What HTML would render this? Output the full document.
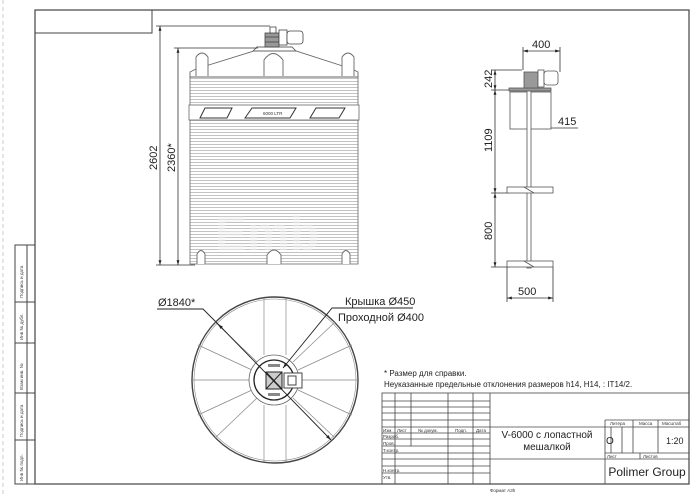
<!DOCTYPE html>
<html><head><meta charset="utf-8"><style>
html,body{margin:0;padding:0;background:#fff;}
svg{display:block;font-family:"Liberation Sans","DejaVu Sans",sans-serif;}
</style></head><body>
<svg width="700" height="495" viewBox="0 0 700 495" xmlns="http://www.w3.org/2000/svg">
<defs>
<marker id="a" viewBox="0 0 10 10" refX="10" refY="5" markerWidth="6" markerHeight="6" orient="auto-start-reverse"><path d="M0,2 L10,5 L0,8 z" fill="#222"/></marker>
<pattern id="cor" x="0" y="0" width="4" height="3" patternUnits="userSpaceOnUse"><rect width="4" height="3" fill="#fff"/><line x1="0" y1="0.5" x2="4" y2="0.5" stroke="#aaa" stroke-width="0.7"/></pattern>
</defs>
<rect width="700" height="495" fill="#fff"/>
<line x1="3" y1="0" x2="3" y2="495" stroke="#ccc" stroke-dasharray="4,3"/>
<rect x="35" y="10" width="654" height="474" fill="none" stroke="#444" stroke-width="1.2"/>
<rect x="35" y="10" width="117" height="23" fill="none" stroke="#444"/>
<g stroke="#444" fill="none">
<rect x="15" y="245" width="20" height="239"/>
<line x1="27" y1="245" x2="27" y2="484"/>
<line x1="15" y1="302" x2="35" y2="302"/><line x1="15" y1="343" x2="35" y2="343"/>
<line x1="15" y1="393" x2="35" y2="393"/><line x1="15" y1="440" x2="35" y2="440"/>
</g>
<g font-size="4.5" fill="#444">
<text transform="translate(23,298) rotate(-90)">Подпись и дата</text>
<text transform="translate(23,340) rotate(-90)">Инв № дубл.</text>
<text transform="translate(23,390) rotate(-90)">Взам инв. №</text>
<text transform="translate(23,437) rotate(-90)">Подпись и дата</text>
<text transform="translate(23,481) rotate(-90)">Инв № подл.</text>
</g>

<rect x="190" y="77" width="168" height="187" fill="url(#cor)" stroke="#666" stroke-width="0.8"/>
<rect x="189" y="105" width="170" height="15" fill="#fff" stroke="#666" stroke-width="0.8"/>
<g fill="none" stroke="#333" stroke-width="1">
<path d="M200,118 L205,108 L232,108 L227,118 Z"/>
<path d="M245,118 L252,108 L296,108 L290,118 Z"/>
<path d="M310,118 L316,108 L345,108 L339,118 Z"/>
</g>
<text x="263" y="115" font-size="4.5" fill="#333">6000 LTR</text>
<text x="215" y="250" font-size="48" font-weight="bold" fill="#f2f2f2" opacity="0.5">Emb</text>
<g fill="#fff" stroke="#666" stroke-width="0.9">
<path d="M190,77 L190,72 L196,69 L254,51 L296,51 L352,69 L358,72 L358,77 Z"/>
<path d="M196,76 L196,57 Q202,49 208,57 L208,76"/>
<path d="M264,76 L264,60 Q273,47 283,60 L283,76"/>
<path d="M342,76 L342,57 Q348,49 354,57 L354,76"/>
<path d="M253,51 L296,51 L292,47 L257,47 Z"/>
</g>
<g fill="#fff" stroke="#444" stroke-width="0.8">
<rect x="265" y="33" width="14" height="14" fill="#999"/>
<line x1="265" y1="37" x2="279" y2="37"/><line x1="265" y1="42" x2="279" y2="42"/>
<rect x="279" y="30" width="8" height="15"/>
<rect x="287" y="31" width="16" height="13" rx="3"/>
<rect x="270" y="27" width="6" height="6"/>
</g>
<g fill="#fff" stroke="#666" stroke-width="0.9">
<path d="M197,264 L197,254 Q201,247 205,254 L205,264"/>
<path d="M267,264 L267,255 Q274,245 281,255 L281,264"/>
<path d="M342,264 L342,254 Q346,247 350,254 L350,264"/>
</g>
<g stroke="#333" stroke-width="0.8" fill="none">
<line x1="156" y1="26" x2="270" y2="26"/>
<line x1="174" y1="48" x2="258" y2="48"/>
<line x1="156" y1="265" x2="195" y2="265"/>
<line x1="160" y1="26" x2="160" y2="265" marker-start="url(#a)" marker-end="url(#a)"/>
<line x1="178" y1="48" x2="178" y2="265" marker-start="url(#a)" marker-end="url(#a)"/>
</g>
<text transform="translate(157,170) rotate(-90)" font-size="11" fill="#222">2602</text>
<text transform="translate(175,172) rotate(-90)" font-size="11" fill="#222">2360*</text>

<circle cx="275" cy="380" r="83" fill="none" stroke="#444" stroke-width="1.4"/>
<circle cx="275" cy="380" r="81" fill="none" stroke="#888" stroke-width="0.6"/>
<g stroke="#888" stroke-width="0.7">
<line x1="264" y1="355" x2="264" y2="298"/><line x1="286" y1="355" x2="286" y2="298"/>
<line x1="264" y1="405" x2="264" y2="462"/><line x1="286" y1="405" x2="286" y2="462"/>
<line x1="250" y1="380" x2="192" y2="380"/><line x1="300" y1="380" x2="358" y2="380"/>
<line x1="252" y1="370" x2="198" y2="345"/><line x1="257" y1="362" x2="215" y2="322"/>
<line x1="252" y1="390" x2="198" y2="415"/><line x1="257" y1="398" x2="215" y2="438"/>
<line x1="298" y1="370" x2="352" y2="345"/><line x1="293" y1="362" x2="335" y2="322"/>
<line x1="298" y1="390" x2="352" y2="415"/><line x1="293" y1="398" x2="335" y2="438"/>
</g>
<circle cx="274" cy="380" r="25" fill="#fff" stroke="#666" stroke-width="0.8"/>
<circle cx="274" cy="380" r="20" fill="none" stroke="#222" stroke-width="1.3"/>
<rect x="266" y="372" width="16" height="17" fill="#ccc" stroke="#222"/>
<line x1="266" y1="372" x2="282" y2="389" stroke="#222"/><line x1="282" y1="372" x2="266" y2="389" stroke="#222"/>
<rect x="268" y="364" width="12" height="3" fill="#888"/>
<rect x="268" y="393" width="12" height="3" fill="#888"/>
<rect x="284" y="373" width="18" height="15" fill="#fff" stroke="#444"/>
<rect x="288" y="376" width="8" height="9" fill="#fff" stroke="#444"/>
<g stroke="#222" stroke-width="0.9" fill="none">
<line x1="218" y1="324" x2="331" y2="440" marker-start="url(#a)" marker-end="url(#a)"/>
<polyline points="157,309 203,309 218,324"/>
<polyline points="413,308 332,308 283,368" marker-end="url(#a)"/>
</g>
<text x="158" y="306" font-size="11" fill="#222">Ø1840*</text>
<text x="345" y="305" font-size="11" fill="#222">Крышка Ø450</text>
<text x="338" y="321" font-size="11" fill="#222">Проходной Ø400</text>

<g stroke="#333" stroke-width="0.8" fill="none">
<line x1="523" y1="51" x2="560" y2="51" marker-start="url(#a)" marker-end="url(#a)"/>
<line x1="523" y1="47" x2="523" y2="70"/><line x1="560" y1="47" x2="560" y2="72"/>
<line x1="491" y1="70" x2="522" y2="70"/><line x1="491" y1="90" x2="510" y2="90"/>
<line x1="491" y1="193" x2="510" y2="193"/><line x1="491" y1="267" x2="510" y2="267"/>
<line x1="495" y1="70" x2="495" y2="90" marker-start="url(#a)" marker-end="url(#a)"/>
<line x1="495" y1="90" x2="495" y2="193" marker-start="url(#a)" marker-end="url(#a)"/>
<line x1="495" y1="193" x2="495" y2="267" marker-start="url(#a)" marker-end="url(#a)"/>
<line x1="510" y1="128" x2="551" y2="128" marker-start="url(#a)" marker-end="url(#a)"/>
<line x1="551" y1="128" x2="578" y2="128"/>
<line x1="507" y1="267" x2="507" y2="302"/><line x1="553" y1="267" x2="553" y2="302"/>
<line x1="507" y1="298" x2="553" y2="298" marker-start="url(#a)" marker-end="url(#a)"/>
</g>
<g stroke="#555" stroke-width="0.8" fill="#fff">
<rect x="510" y="92" width="41" height="37"/>
<rect x="527" y="90" width="4" height="178"/>
<rect x="507" y="187" width="46" height="6"/>
<rect x="507" y="261" width="46" height="6"/>
<line x1="524" y1="187" x2="534" y2="193"/><line x1="524" y1="261" x2="534" y2="267"/>
<rect x="509" y="88" width="42" height="3" fill="#999"/>
<rect x="524" y="72" width="14" height="16" fill="#999"/>
<rect x="538" y="70" width="6" height="17"/>
<rect x="544" y="71" width="14" height="14" rx="3"/>
</g>
<g font-size="11" fill="#222">
<text x="532" y="48">400</text>
<text x="558" y="125">415</text>
<text x="518" y="295">500</text>
<text transform="translate(492,88) rotate(-90)">242</text>
<text transform="translate(492,152) rotate(-90)">1109</text>
<text transform="translate(492,240) rotate(-90)">800</text>
</g>

<text x="384" y="376" font-size="8" fill="#222">* Размер для справки.</text>
<text x="384" y="387" font-size="8" fill="#222">Неуказанные предельные отклонения размеров h14, H14, : IT14/2.</text>

<g stroke="#444" stroke-width="0.8" fill="none">
<rect x="382" y="393" width="307" height="91"/>
<line x1="382" y1="401" x2="490" y2="401"/><line x1="382" y1="407" x2="490" y2="407"/>
<line x1="382" y1="413" x2="490" y2="413"/><line x1="382" y1="420" x2="490" y2="420"/>
<line x1="382" y1="427" x2="689" y2="427"/><line x1="382" y1="433" x2="490" y2="433"/>
<line x1="382" y1="439" x2="490" y2="439"/><line x1="382" y1="446" x2="490" y2="446"/>
<line x1="382" y1="453" x2="490" y2="453"/><line x1="382" y1="459" x2="689" y2="459"/>
<line x1="382" y1="466" x2="490" y2="466"/><line x1="382" y1="473" x2="490" y2="473"/>
<line x1="395" y1="393" x2="395" y2="484"/><line x1="411" y1="393" x2="411" y2="446"/>
<line x1="448" y1="393" x2="448" y2="484"/><line x1="473" y1="393" x2="473" y2="484"/>
<line x1="490" y1="393" x2="490" y2="484"/>
<line x1="605" y1="420" x2="605" y2="484"/>
<line x1="605" y1="420" x2="689" y2="420"/>
<line x1="605" y1="453" x2="689" y2="453"/>
<line x1="611" y1="427" x2="611" y2="453"/><line x1="622" y1="427" x2="622" y2="453"/>
<line x1="633" y1="420" x2="633" y2="453"/><line x1="658" y1="420" x2="658" y2="453"/>
<line x1="640" y1="453" x2="640" y2="459"/>
</g>
<g font-size="4.5" fill="#333">
<text x="383" y="432">Изм.</text><text x="397" y="432">Лист</text><text x="418" y="432">№ докум.</text>
<text x="455" y="432">Подп.</text><text x="476" y="432">Дата</text>
<text x="383" y="438">Разраб.</text><text x="383" y="445">Пров.</text><text x="383" y="452">Т.контр.</text>
<text x="383" y="472">Н.контр.</text><text x="383" y="479">Утв.</text>
<text x="610" y="425">Литера</text><text x="639" y="425">Масса</text><text x="662" y="425">Масштаб</text>
<text x="607" y="458">Лист</text><text x="643" y="458">Листов</text>
<text x="490" y="492">Формат А3h</text>
</g>
<text x="547" y="438" font-size="10" fill="#222" text-anchor="middle">V-6000 с лопастной</text>
<text x="547" y="450" font-size="10" fill="#222" text-anchor="middle">мешалкой</text>
<text x="606" y="444" font-size="10" fill="#222">О</text>
<text x="666" y="444" font-size="9" fill="#222">1:20</text>
<text x="647" y="476" font-size="12" fill="#222" text-anchor="middle">Polimer Group</text>
</svg>
</body></html>
